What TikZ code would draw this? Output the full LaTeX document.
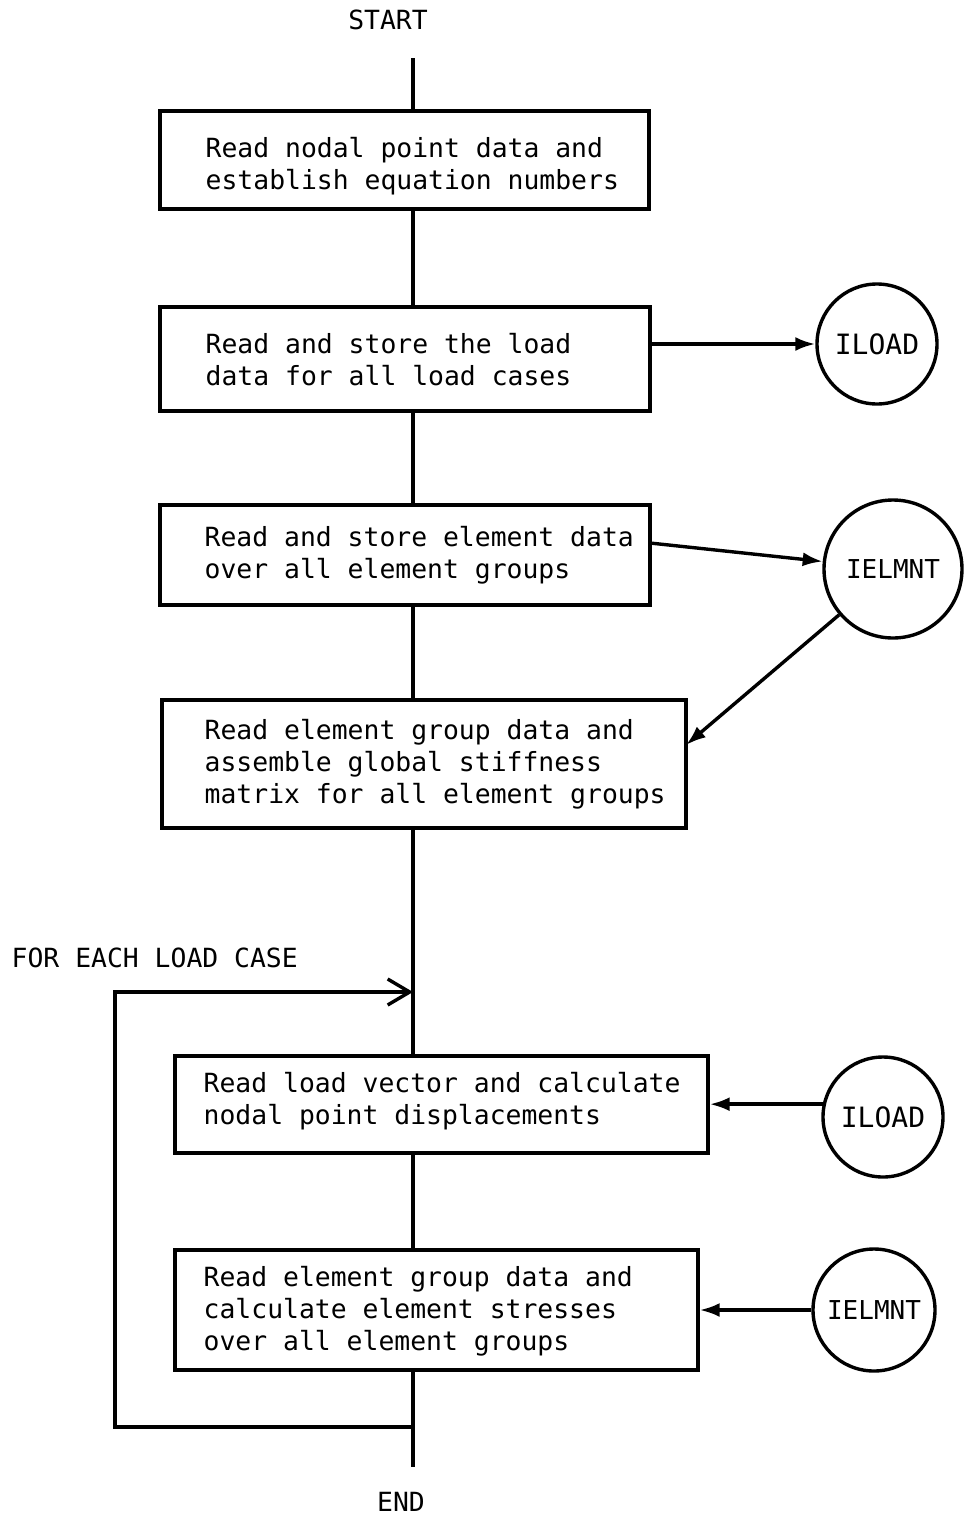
\documentclass[tikz,border=0pt]{standalone}
\usepackage{fontspec}
\setmonofont{DejaVu Sans Mono}
\usetikzlibrary{arrows.meta}
\begin{document}
\begin{tikzpicture}[x=1pt,y=-1pt,line width=3.4pt,
  box/.style={draw,rectangle,inner sep=0pt,line width=3.4pt},
  txt/.style={anchor=west,align=left,inner sep=0pt,font=\ttfamily\fontsize{26.4}{32}\selectfont},
  lbl/.style={inner sep=0pt,font=\ttfamily\fontsize{26.4}{32}\selectfont},
  circ/.style={draw,circle,inner sep=0pt,line width=3.4pt,font=\ttfamily\fontsize{28}{32}\selectfont},
  circs/.style={circ,font=\ttfamily\fontsize{26}{32}\selectfont},
  arr/.style={-{Latex[length=20pt,width=14pt]}},
  loopar/.style={-{Straight Barb[length=22pt,width=26pt]}}]
\useasboundingbox (0,0) rectangle (964,1515);
\fill[white] (0,0) rectangle (964,1515);

% labels
\node[lbl] (start) at (388,20) {START};
\node[lbl] (end) at (401,1502) {END};
\node[lbl,anchor=west] (foreach) at (10,958) {FOR EACH LOAD CASE};

% boxes
\node[box,minimum width=489pt,minimum height=98pt] (b1) at (404.5,160) {};
\node[box,minimum width=490pt,minimum height=104pt] (b2) at (405,359) {};
\node[box,minimum width=490pt,minimum height=100pt] (b3) at (405,555) {};
\node[box,minimum width=524pt,minimum height=128pt] (b4) at (424,764) {};
\node[box,minimum width=533pt,minimum height=97pt] (b5) at (441.5,1104.5) {};
\node[box,minimum width=523pt,minimum height=120pt] (b6) at (436.5,1310) {};

\node[txt] (t1) at (204,166) {Read nodal point data and\\establish equation numbers};
\node[txt] (t2) at (204,360) {Read and store the load\\data for all load cases};
\node[txt] (t3) at (203,555) {Read and store element data\\over all element groups};
\node[txt] (t4) at (203,764) {Read element group data and\\assemble global stiffness\\matrix for all element groups};
\node[txt] (t5) at (202,1101) {Read load vector and calculate\\nodal point displacements};
\node[txt] (t6) at (202,1311) {Read element group data and\\calculate element stresses\\over all element groups};

% circles
\node[circ,minimum size=120pt] (c1) at (877,344) {ILOAD};
\node[circs,minimum size=138pt] (c2) at (893,569) {IELMNT};
\node[circ,minimum size=120pt] (c3) at (883,1117) {ILOAD};
\node[circs,minimum size=122pt] (c4) at (874,1310) {IELMNT};

% coordinates
\coordinate (s0) at (413,58);
\coordinate (e0) at (413,1467);
\coordinate (lt) at (115,992);
\coordinate (lb) at (115,1427);
\coordinate (a3) at (650,543);
\coordinate (a4) at (686,745);

% main flow
\draw (s0) -- (s0 |- b1.north);
\draw (s0 |- b1.south) -- (s0 |- b2.north);
\draw (s0 |- b2.south) -- (s0 |- b3.north);
\draw (s0 |- b3.south) -- (s0 |- b4.north);
\draw (s0 |- b4.south) -- (s0 |- b5.north);
\draw (s0 |- b5.south) -- (s0 |- b6.north);
\draw (s0 |- b6.south) -- (e0);

% loop
\draw[loopar] (s0 |- lb) -- (lb) -- (lt) -- (s0 |- lt);

% side arrows
\draw[arr] (b2.east |- c1) -- (c1);
\draw[arr] (a3) -- (c2);
\draw[arr] (c2) -- (a4);
\draw[arr] (c3.168.5) -- (b5.east |- c3.168.5);
\draw[arr] (c4.west) -- (b6.east);
\end{tikzpicture}
\end{document}
